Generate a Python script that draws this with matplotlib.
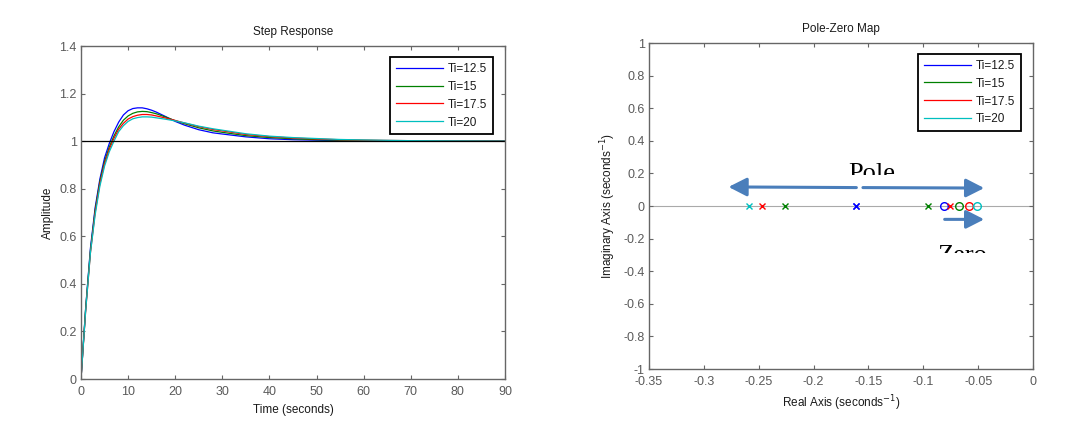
import numpy as np
import matplotlib
matplotlib.use("Agg")
import matplotlib.pyplot as plt
from matplotlib.patches import Rectangle

labels = ["Ti=12.5", "Ti=15", "Ti=17.5", "Ti=20"]
colors = ["#0000ff", "#008000", "#ff0000", "#00bfbf"]

# step response samples
t = [0, 1, 2, 3, 4, 5, 6, 7, 8, 9, 10, 11, 12, 13, 14, 15, 16, 18, 20,
     22, 25, 28, 30, 35, 40, 45, 50, 55, 60, 70, 80, 90]
y_125 = [0, 0.30, 0.55, 0.72, 0.84, 0.93, 0.99, 1.04, 1.08, 1.11, 1.128, 1.137,
         1.14, 1.14, 1.136, 1.13, 1.122, 1.103, 1.083, 1.067, 1.048, 1.035, 1.03,
         1.018, 1.01, 1.006, 1.004, 1.002, 1.001, 1.0, 1.0, 1.0]
y_15 = [0, 0.30, 0.54, 0.71, 0.83, 0.915, 0.975, 1.022, 1.06, 1.088, 1.106, 1.117,
        1.123, 1.125, 1.124, 1.12, 1.115, 1.101, 1.086, 1.073, 1.056, 1.043, 1.037,
        1.023, 1.015, 1.01, 1.006, 1.004, 1.003, 1.001, 1.0, 1.0]
y_175 = [0, 0.29, 0.53, 0.70, 0.82, 0.905, 0.965, 1.012, 1.05, 1.075, 1.093, 1.103,
         1.109, 1.112, 1.112, 1.11, 1.106, 1.097, 1.087, 1.076, 1.061, 1.049, 1.043,
         1.028, 1.019, 1.013, 1.009, 1.006, 1.004, 1.002, 1.001, 1.0]
y_20 = [0, 0.29, 0.53, 0.69, 0.81, 0.895, 0.955, 1.0, 1.04, 1.065, 1.083, 1.094,
        1.099, 1.102, 1.102, 1.101, 1.098, 1.092, 1.085, 1.077, 1.063, 1.052, 1.046,
        1.031, 1.021, 1.015, 1.011, 1.007, 1.005, 1.002, 1.001, 1.0]
step_data = [y_125, y_15, y_175, y_20]

# pole / zero locations (real axis)
poles = [[-0.161, -0.161], [-0.226, -0.0955], [-0.2466, -0.0752], [-0.259]]
zeros = [[-0.081], [-0.067], [-0.058], [-0.051]]

plt.rcParams['font.family'] = ['Liberation Sans', 'DejaVu Sans']
tick_gray = "#5a5a5a"
frame_gray = "#666666"
text_c = "#1a1a1a"

fig = plt.figure(figsize=(10.87, 4.34), dpi=100)
W, H = 1087, 434
ax1 = fig.add_axes([81 / W, 1 - 379 / H, (505 - 81) / W, (379 - 46) / H])
ax2 = fig.add_axes([649 / W, 1 - 369 / H, (1033 - 649) / W, (369 - 43) / H])


def style(ax):
    for s in ax.spines.values():
        s.set_color(frame_gray)
        s.set_linewidth(1.0)
    ax.tick_params(direction="in", top=True, right=True, length=3,
                   colors=frame_gray, labelcolor=tick_gray, labelsize=9,
                   width=0.8, pad=3)
    ax.tick_params(axis="x", pad=5)


def legend(ax):
    leg = ax.legend(loc="upper right", fontsize=8.5, fancybox=False,
                    framealpha=1, edgecolor="black", handlelength=4.0,
                    borderpad=0.5, labelspacing=0.5, handletextpad=0.4,
                    bbox_to_anchor=(0.985, 0.985))
    leg.get_frame().set_linewidth(1.3)
    for txt in leg.get_texts():
        txt.set_color(text_c)


# ---- step response ----
for y, c, lab in zip(step_data, colors, labels):
    ax1.plot(t, y, color=c, lw=0.9, label=lab)
ax1.axhline(1.0, color="black", lw=0.9)
ax1.set_xlim(0, 90)
ax1.set_ylim(0, 1.4)
ax1.set_xticks(np.arange(0, 91, 10))
ax1.set_yticks([0, 0.2, 0.4, 0.6, 0.8, 1, 1.2, 1.4])
ax1.set_yticklabels(["0", "0.2", "0.4", "0.6", "0.8", "1", "1.2", "1.4"])
ax1.set_title("Step Response", fontsize=8.5, color=text_c, pad=8)
ax1.set_xlabel("Time (seconds)", fontsize=8.5, color=text_c)
ax1.set_ylabel("Amplitude", fontsize=8.5, color=text_c)
style(ax1)
legend(ax1)

# ---- pole-zero map ----
ax2.axhline(0, color="#aaaaaa", lw=0.8, zorder=1)
for p, z, c, lab in zip(poles, zeros, colors, labels):
    ax2.plot([], [], color=c, lw=0.9, label=lab)
    ax2.plot(p, [0] * len(p), "x", color=c, ms=5, mew=1.0, zorder=3)
    ax2.plot(z, [0] * len(z), "o", mfc="none", mec=c, ms=5.5, mew=1.0, zorder=3)
ax2.set_xlim(-0.35, 0)
ax2.set_ylim(-1, 1)
ax2.set_xticks([-0.35, -0.3, -0.25, -0.2, -0.15, -0.1, -0.05, 0])
ax2.set_xticklabels(["-0.35", "-0.3", "-0.25", "-0.2", "-0.15", "-0.1", "-0.05", "0"])
ax2.set_yticks(np.round(np.arange(-1, 1.01, 0.2), 1))
ax2.set_yticklabels(["-1", "-0.8", "-0.6", "-0.4", "-0.2", "0", "0.2", "0.4",
                     "0.6", "0.8", "1"])
ax2.set_title("Pole-Zero Map", fontsize=8.5, color=text_c, pad=8)
ax2.set_xlabel("Real Axis (seconds$^{-1}$)", fontsize=8.5, color=text_c)
ax2.set_ylabel("Imaginary Axis (seconds$^{-1}$)", fontsize=8.5, color=text_c)
style(ax2)
legend(ax2)

# annotation arrows
arrow_c = "#4a7ebb"
akw = dict(arrowstyle="-|>,head_length=0.55,head_width=0.28", color=arrow_c,
           lw=2.2, shrinkA=0, shrinkB=0, mutation_scale=20)
ax2.annotate("", xy=(-0.2775, 0.117), xytext=(-0.161, 0.113), arrowprops=akw)
ax2.annotate("", xy=(-0.0445, 0.110), xytext=(-0.155, 0.113), arrowprops=akw)
ax2.annotate("", xy=(-0.0445, -0.082), xytext=(-0.0805, -0.082), arrowprops=akw)

# pasted labels, cut off at the bottom
clip1 = Rectangle((846, H - 175), 70, 20, transform=None)
tx1 = fig.text(848 / W, 1 - 180 / H, "Pole", fontsize=19, family="Liberation Serif",
               color="black", va="baseline")
tx1.set_clip_path(clip1)
clip2 = Rectangle((936, H - 253), 70, 20, transform=None)
tx2 = fig.text(938 / W, 1 - 262 / H, "Zero", fontsize=19, family="Liberation Serif",
               color="black", va="baseline")
tx2.set_clip_path(clip2)

fig.savefig("out.png", dpi=100, facecolor="white")
